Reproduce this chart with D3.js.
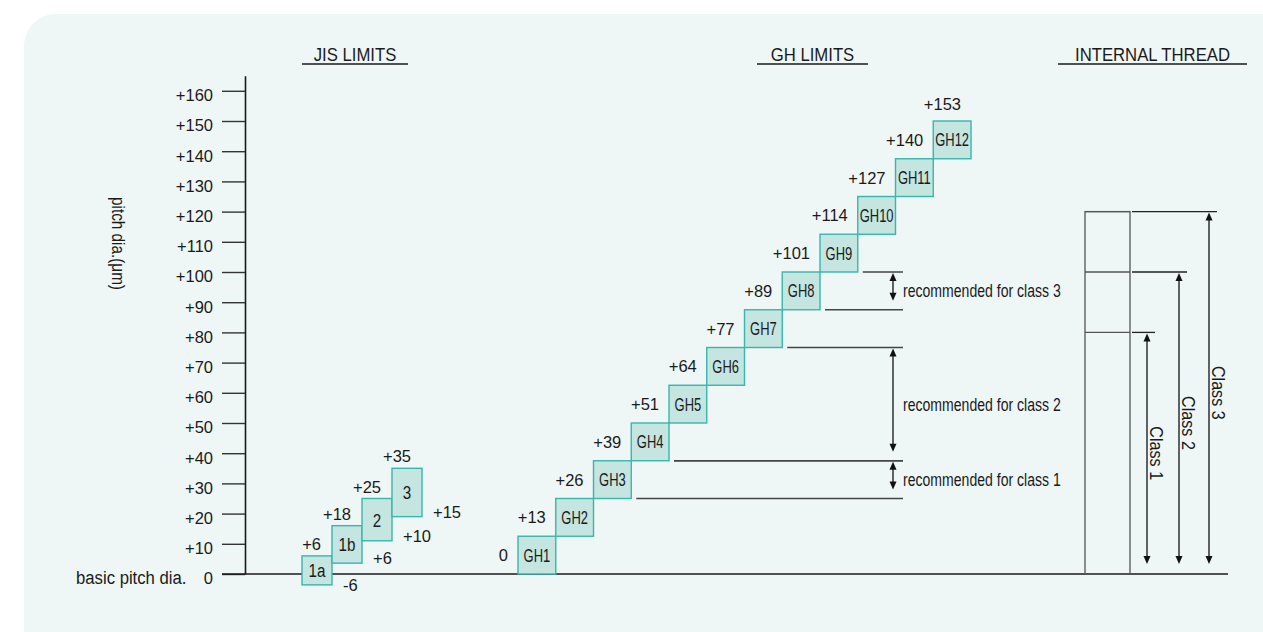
<!DOCTYPE html>
<html>
<head>
<meta charset="utf-8">
<script src="https://cdn.jsdelivr.net/npm/d3@7"></script>
<style>
  html, body { margin: 0; padding: 0; background: #ffffff; }
  svg text { font-family: "Liberation Sans", Arial, sans-serif; fill: #1a1a1a; }
</style>
</head>
<body>
<div id="chart"></div>
<script>
// y axis
const yTicks = [0, 10, 20, 30, 40, 50, 60, 70, 80, 90, 100, 110, 120, 130, 140, 150, 160];

// JIS limits: upper / lower labels, and box extents as drawn
const jisClasses = ["1a", "1b", "2", "3"];
const jisUpper = ["+6", "+18", "+25", "+35"];
const jisLower = ["-6", "+6", "+10", "+15"];
const jisBoxTop = [6, 16, 25, 35];
const jisBoxBottom = [-3.6, 3.6, 11, 19];

// GH limits: lower limit of each GH class + upper of GH12
const ghClasses = ["GH1", "GH2", "GH3", "GH4", "GH5", "GH6", "GH7", "GH8", "GH9", "GH10", "GH11", "GH12"];
const ghLimits = ["0", "+13", "+26", "+39", "+51", "+64", "+77", "+89", "+101", "+114", "+127", "+140", "+153"];
const ghBounds = [0, 12.5, 25, 37.5, 50, 62.5, 75, 87.5, 100, 112.5, 125, 137.5, 150];

// recommended ranges (from GH class .. to GH class)
const recLabels = ["recommended for class 1", "recommended for class 2", "recommended for class 3"];
const recFrom = ["GH3", "GH4", "GH8"];
const recTo = ["GH3", "GH6", "GH8"];

// internal thread
const threadClasses = ["Class 1", "Class 2", "Class 3"];
const threadUpper = [80, 100, 120];

const W = 1263, H = 632;

const svg = d3.select("#chart").append("svg")
    .attr("width", W)
    .attr("height", H);

svg.append("rect")
    .attr("x", 24).attr("y", 14)
    .attr("width", 1300).attr("height", 660)
    .attr("rx", 32).attr("ry", 32)
    .attr("fill", "#eef7f6");

const y = d3.scaleLinear().domain([0, 165]).range([574, 75.7]);
const xJis = d3.scaleBand().domain(jisClasses).range([302, 422]);
const xGh = d3.scaleBand().domain(ghClasses).range([518, 971]);

// condensed text helper
function ctext(g, x, yy, str, size, sx, anchor, rot) {
    return g.append("text")
        .attr("transform", `translate(${x},${yy}) rotate(${rot || 0}) scale(${sx},1)`)
        .attr("text-anchor", anchor || "start")
        .style("font-size", size + "px")
        .text(str);
}

// headers
const headers = [
    {t: "JIS LIMITS", x0: 302, x1: 408},
    {t: "GH LIMITS", x0: 757, x1: 868},
    {t: "INTERNAL THREAD", x0: 1058, x1: 1247}
];
headers.forEach(h => {
    ctext(svg, (h.x0 + h.x1) / 2, 60.5, h.t, 19, 0.88, "middle");
    svg.append("line")
        .attr("x1", h.x0).attr("x2", h.x1)
        .attr("y1", 64).attr("y2", 64)
        .attr("stroke", "#1a1a1a").attr("stroke-width", 1.3);
});

// y axis
const axis = svg.append("g")
    .attr("transform", "translate(245,0)")
    .call(d3.axisLeft(y).tickValues(yTicks).tickSize(23).tickSizeOuter(0).tickPadding(9)
        .tickFormat(d => d === 0 ? "0" : "+" + d));
axis.select(".domain").attr("stroke", "#1a1a1a").attr("stroke-width", 1.6);
axis.selectAll(".tick line").attr("stroke", "#333").attr("stroke-width", 1.4);
axis.selectAll(".tick text")
    .attr("dy", "0.6em")
    .style("font-size", "16.5px")
    .style("font-family", "\"Liberation Sans\", Arial, sans-serif")
    .attr("fill", "#1a1a1a");

ctext(svg, 112, 243.5, "pitch dia.(μm)", 18, 0.85, "middle", 90);
ctext(svg, 76, 584, "basic pitch dia.", 19, 0.88, "start");

// baseline
svg.append("line")
    .attr("x1", 222).attr("x2", 1228)
    .attr("y1", y(0)).attr("y2", y(0))
    .attr("stroke", "#1a1a1a").attr("stroke-width", 1.6);

const boxFill = "#c5e5e1", boxStroke = "#38b6ac";

// JIS boxes
const jis = svg.append("g");
jisClasses.forEach((c, i) => {
    const x0 = xJis(c), bw = xJis.bandwidth();
    const top = y(jisBoxTop[i]), bot = y(jisBoxBottom[i]);
    jis.append("rect")
        .attr("x", x0).attr("y", top)
        .attr("width", bw).attr("height", bot - top)
        .attr("fill", boxFill).attr("stroke", boxStroke).attr("stroke-width", 1.4);
    ctext(jis, x0 + bw / 2, (top + bot) / 2 + 7, c, 19, 0.8, "middle");
    jis.append("text")
        .attr("x", x0 + bw - 11).attr("y", top - 6)
        .attr("text-anchor", "end").style("font-size", "16.5px")
        .text(jisUpper[i]);
    // lower label: below the baseline when the box reaches under zero
    const lowY = jisBoxBottom[i] < 0 ? y(0) + 17 : bot + 1;
    jis.append("text")
        .attr("x", x0 + bw + 11).attr("y", lowY)
        .attr("text-anchor", "start").style("font-size", "16.5px")
        .text(jisLower[i]);
});

// GH boxes
const gh = svg.append("g");
ghClasses.forEach((c, i) => {
    const x0 = xGh(c), bw = xGh.bandwidth();
    const bot = y(ghBounds[i]), top = y(ghBounds[i + 1]);
    gh.append("rect")
        .attr("x", x0).attr("y", top)
        .attr("width", bw).attr("height", bot - top)
        .attr("fill", boxFill).attr("stroke", boxStroke).attr("stroke-width", 1.4);
    ctext(gh, x0 + bw / 2, (top + bot) / 2 + 6.5, c, 18, 0.72, "middle");
    gh.append("text")
        .attr("x", x0 - 10).attr("y", (top + bot) / 2 + 6)
        .attr("text-anchor", "end").style("font-size", "16.5px")
        .text(ghLimits[i]);
});
{
    const last = ghClasses[ghClasses.length - 1];
    gh.append("text")
        .attr("x", xGh(last) + xGh.bandwidth() - 10)
        .attr("y", y(ghBounds[ghBounds.length - 1]) - 11)
        .attr("text-anchor", "end").style("font-size", "16.5px")
        .text(ghLimits[ghLimits.length - 1]);
}

// arrow helpers
function arrowHead(g, x, yy, dir) {
    // dir: -1 up, +1 down; tip at (x, yy)
    g.append("path")
        .attr("d", `M${x},${yy} L${x - 3.5},${yy - dir * 8} L${x + 3.5},${yy - dir * 8} Z`)
        .attr("fill", "#111");
}
function dblArrow(g, x, y1, y2) {
    g.append("line")
        .attr("x1", x).attr("x2", x).attr("y1", y1 + 4).attr("y2", y2 - 4)
        .attr("stroke", "#111").attr("stroke-width", 1.3);
    arrowHead(g, x, y1, -1);
    arrowHead(g, x, y2, 1);
}

// recommended ranges
const rec = svg.append("g");
const recLineEnd = 903, recArrowX = 893;
recLabels.forEach((lab, i) => {
    const iFrom = ghClasses.indexOf(recFrom[i]);
    const iTo = ghClasses.indexOf(recTo[i]);
    const yLow = y(ghBounds[iFrom]);
    const yHigh = y(ghBounds[iTo + 1]);
    const xLow = xGh(ghClasses[iFrom]) + xGh.bandwidth() + 5;
    const xHigh = xGh(ghClasses[iTo + 1]) + xGh.bandwidth() + 5;
    rec.append("line")
        .attr("x1", xLow).attr("x2", recLineEnd).attr("y1", yLow).attr("y2", yLow)
        .attr("stroke", "#444").attr("stroke-width", 1.3);
    rec.append("line")
        .attr("x1", xHigh).attr("x2", recLineEnd).attr("y1", yHigh).attr("y2", yHigh)
        .attr("stroke", "#444").attr("stroke-width", 1.3);
    dblArrow(rec, recArrowX, yHigh + 1, yLow - 9);
    ctext(rec, 903, (yLow + yHigh) / 2 + 6.5, lab, 18.5, 0.76, "start");
});

// internal thread
const it = svg.append("g");
const rectX0 = 1085, rectX1 = 1130;
const arrowXs = [1147, 1179, 1209];
it.append("rect")
    .attr("x", rectX0).attr("y", y(d3.max(threadUpper)))
    .attr("width", rectX1 - rectX0).attr("height", y(0) - y(d3.max(threadUpper)))
    .attr("fill", "none").attr("stroke", "#555").attr("stroke-width", 1.3);
threadClasses.forEach((c, i) => {
    const yy = y(threadUpper[i]);
    it.append("line")
        .attr("x1", rectX0).attr("x2", rectX1).attr("y1", yy).attr("y2", yy)
        .attr("stroke", "#555").attr("stroke-width", 1.3);
    it.append("line")
        .attr("x1", rectX1 + 2).attr("x2", arrowXs[i] + 8).attr("y1", yy).attr("y2", yy)
        .attr("stroke", "#222").attr("stroke-width", 1.3);
    dblArrow(it, arrowXs[i], yy + 1, y(0) - 10);
    ctext(it, arrowXs[i] + 3, (yy + y(0)) / 2, c, 19, 0.85, "middle", 90);
});
</script>
</body>
</html>
